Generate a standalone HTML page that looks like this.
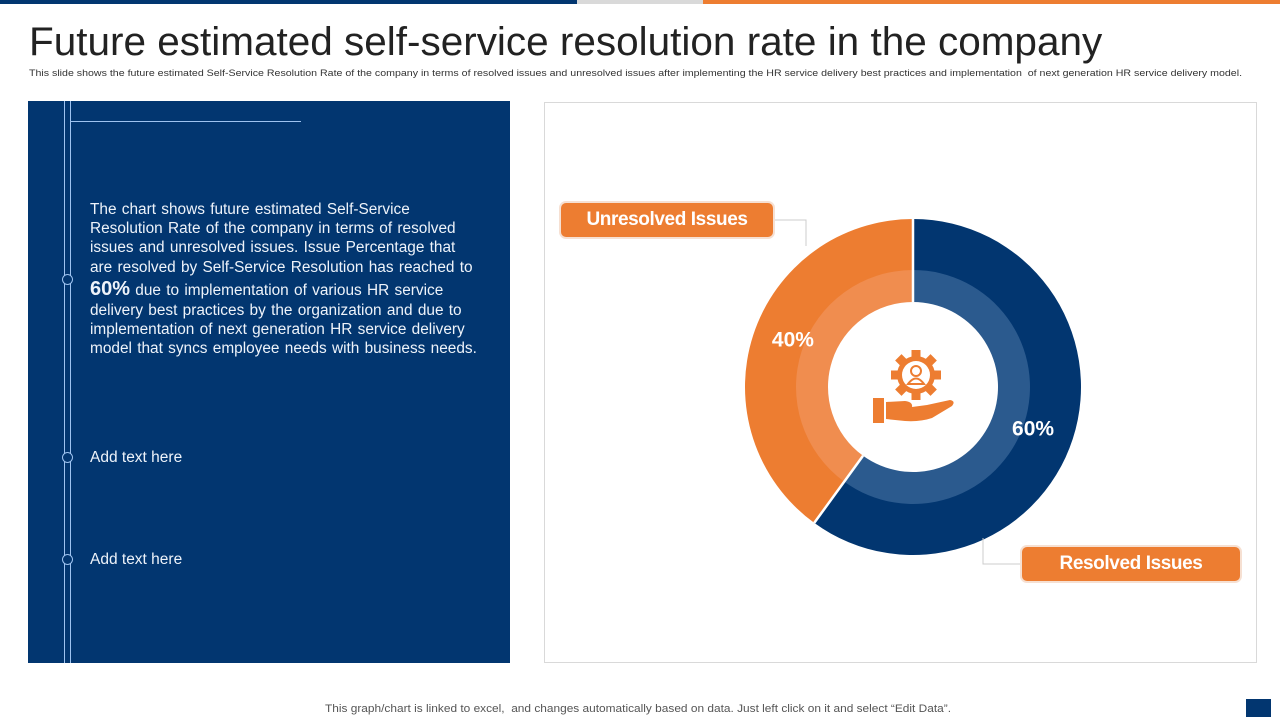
<!DOCTYPE html>
<html><head><meta charset="utf-8"><style>
body{margin:0;width:1280px;height:720px;background:#fff;font-family:"Liberation Sans",sans-serif;position:relative;overflow:hidden}
.abs{position:absolute}
</style></head><body>
<div class="abs" style="left:0;top:0;width:577px;height:4px;background:#023670"></div>
<div class="abs" style="left:577px;top:0;width:126px;height:4px;background:#d9d9d9"></div>
<div class="abs" style="left:703px;top:0;width:577px;height:4px;background:#ed7d31"></div>
<div class="abs" style="left:29px;top:20px;font-size:40px;color:#222;white-space:nowrap;transform:scaleX(1.012);transform-origin:left">Future estimated self-service resolution rate in the company</div>
<div class="abs" style="left:29px;top:68px;font-size:9px;color:#333;white-space:nowrap;transform:scaleX(1.18);transform-origin:left">This slide shows the future estimated Self-Service Resolution Rate of the company in terms of resolved issues and unresolved issues after implementing the HR service delivery best practices and implementation&nbsp; of next generation HR service delivery model.</div>

<div class="abs" style="left:28px;top:101px;width:482px;height:562px;background:#023670">
  <div class="abs" style="left:36px;top:0;width:1px;height:562px;background:#9ec3f0"></div>
  <div class="abs" style="left:42px;top:0;width:1px;height:562px;background:#9ec3f0"></div>
  <div class="abs" style="left:42px;top:20px;width:231px;height:1px;background:#9ec3f0"></div>
  <div class="abs" style="left:34px;top:173px;width:9px;height:9px;border:1px solid #9ec3f0;border-radius:50%;background:#023670"></div>
  <div class="abs" style="left:34px;top:351px;width:9px;height:9px;border:1px solid #9ec3f0;border-radius:50%;background:#023670"></div>
  <div class="abs" style="left:34px;top:453px;width:9px;height:9px;border:1px solid #9ec3f0;border-radius:50%;background:#023670"></div>
  <div class="abs" style="left:62px;top:99px;width:420px;font-size:15.4px;line-height:19.2px;word-spacing:1px;color:#eef3fa;white-space:nowrap">The chart shows future estimated Self-Service<br>Resolution Rate of the company in terms of resolved<br>issues and unresolved issues. Issue Percentage that<br>are resolved by Self-Service Resolution has reached to<br><b style="font-size:20px;line-height:24px">60%</b> due to implementation of various HR service<br>delivery best practices by the organization and due to<br>implementation of next generation HR service delivery<br>model that syncs employee needs with business needs.</div>
  <div class="abs" style="left:62px;top:348px;font-size:15.5px;color:#eef3fa">Add text here</div>
  <div class="abs" style="left:62px;top:450px;font-size:15.5px;color:#eef3fa">Add text here</div>
</div>

<div class="abs" style="left:544px;top:102px;width:711px;height:559px;border:1px solid #d9d9d9"></div>

<svg class="abs" style="left:0;top:0" width="1280" height="720" id="chart"></svg>

<div class="abs" style="left:325px;top:703px;font-size:11px;color:#555;white-space:nowrap;transform:scaleX(1.08);transform-origin:left">This graph/chart is linked to excel,&nbsp; and changes automatically based on data. Just left click on it and select “Edit Data”.</div>
<div class="abs" style="left:1246px;top:699px;width:25px;height:18px;background:#023670"></div>

<script>
const categories = ["Resolved Issues", "Unresolved Issues"];
const values = [60, 40];
const labels = ["60%", "40%"];
const outerColors = ["#023670", "#ed7d31"];
const innerColors = ["#2b5a8e", "#f08d4f"];

const svg = document.getElementById('chart');
const NS = 'http://www.w3.org/2000/svg';
const cx = 913, cy = 387, R = 168, RB = 117, RI = 85;
function pt(r, a){ return [cx + r*Math.sin(a), cy - r*Math.cos(a)]; }
function arc(r0, r1, a0, a1){
  const large = (a1 - a0) > Math.PI ? 1 : 0;
  const [x0,y0]=pt(r1,a0),[x1,y1]=pt(r1,a1),[x2,y2]=pt(r0,a1),[x3,y3]=pt(r0,a0);
  return `M${x0},${y0}A${r1},${r1} 0 ${large} 1 ${x1},${y1}L${x2},${y2}A${r0},${r0} 0 ${large} 0 ${x3},${y3}Z`;
}
const total = values.reduce((a,b)=>a+b,0);
let a = 0;
const bounds = [];
values.forEach((v,i)=>{
  const a1 = a + v/total*2*Math.PI;
  const p = document.createElementNS(NS,'path');
  p.setAttribute('d', arc(RB-1, R, a, a1));
  p.setAttribute('fill', outerColors[i]);
  
  
  svg.appendChild(p);
  const q = document.createElementNS(NS,'path');
  q.setAttribute('d', arc(RI, RB, a, a1));
  q.setAttribute('fill', innerColors[i]);
  
  
  svg.appendChild(q);
  bounds.push(a);
  a = a1;
});
bounds.forEach((b,i)=>{
  const [x0,y0]=pt(RI,b),[x1,y1]=pt(R,b);
  const l = document.createElementNS(NS,'line');
  l.setAttribute('x1',x0);l.setAttribute('y1',y0);l.setAttribute('x2',x1);l.setAttribute('y2',y1);
  l.setAttribute('stroke','#fff');l.setAttribute('stroke-width','2.5');
  
  
  svg.appendChild(l);
});
a = 0;
values.forEach((v,i)=>{
  const a1 = a + v/total*2*Math.PI;
  const mid = (a + a1)/2 + 0.04;
  const [tx,ty] = pt(128, mid);
  const t = document.createElementNS(NS,'text');
  t.setAttribute('x', tx); t.setAttribute('y', ty + 4);
  t.setAttribute('text-anchor','middle');
  t.setAttribute('font-family','Liberation Sans, sans-serif');
  t.setAttribute('font-weight','bold'); t.setAttribute('font-size','21');
  t.setAttribute('fill','#fff');
  t.textContent = labels[i];
  
  
  svg.appendChild(t);
  a = a1;
});
const conn = document.createElementNS(NS,'path');
conn.setAttribute('d','M773,220H806V246 M983,538V564H1022');
conn.setAttribute('stroke','#ccc'); conn.setAttribute('fill','none');


svg.appendChild(conn);
const g = document.createElementNS(NS,'g');


g.innerHTML = '<g fill="#ed7d31" transform="translate(916,375)">'+
 [0,45,90,135,180,225,270,315].map(d=>`<rect x="-4.5" y="-25" width="9" height="9" transform="rotate(${d})"/>`).join('')+
 '<circle r="19"/><circle r="14" fill="#fff"/><circle cy="-4" r="5" fill="none" stroke="#ed7d31" stroke-width="2"/><path d="M-8,9 Q0,-2 8,9 Z" fill="none" stroke="#ed7d31" stroke-width="2"/></g>'+
 '<rect x="873" y="398" width="11" height="25" fill="#ed7d31"/>'+
 '<path d="M886,402 L905,401 Q913,402 912,407 L927,405 L950,400 Q956,401 952,406 L932,418 Q920,422 905,421 L886,419 Z" fill="#ed7d31"/>';
svg.appendChild(g);
</script>

<div class="abs" style="left:561px;top:203px;width:212px;height:34px;background:#ed7d31;border-radius:5px;box-shadow:0 0 0 2px #f6e0d2;color:#fff;font-weight:bold;font-size:19px;line-height:34px;text-align:center;letter-spacing:-0.4px">Unresolved Issues</div>
<div class="abs" style="left:1022px;top:547px;width:218px;height:34px;background:#ed7d31;border-radius:5px;box-shadow:0 0 0 2px #f6e0d2;color:#fff;font-weight:bold;font-size:19px;line-height:34px;text-align:center;letter-spacing:-0.4px">Resolved Issues</div>
</body></html>
